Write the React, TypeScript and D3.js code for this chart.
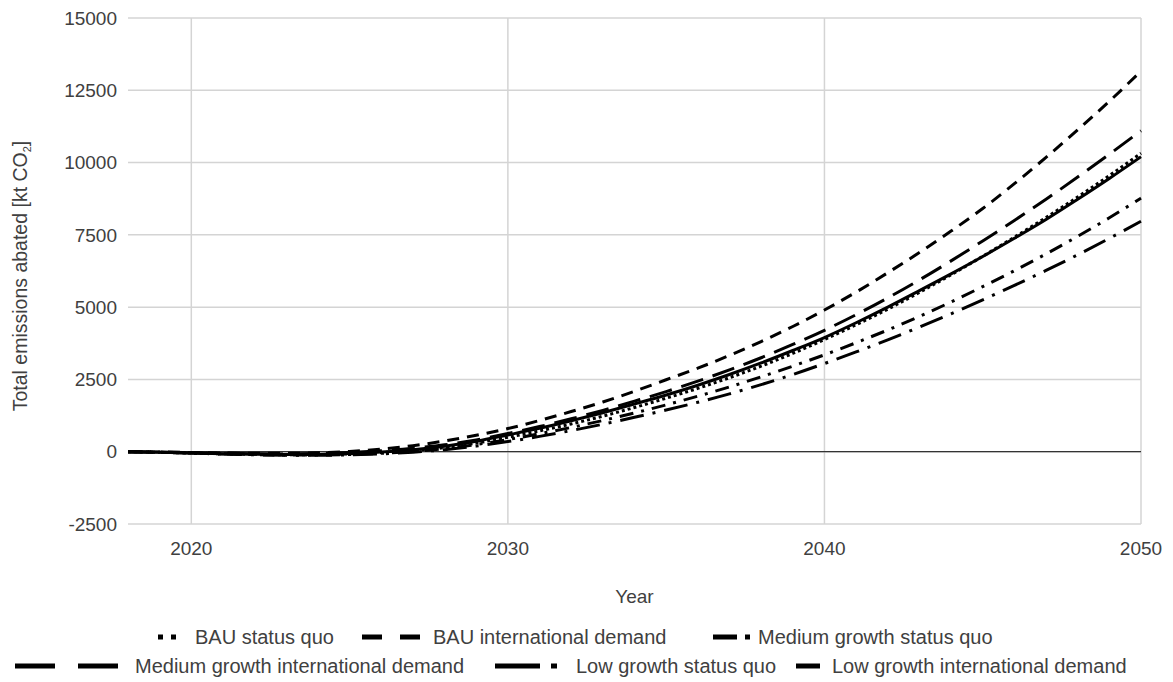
import React from "react";
import * as d3 from "d3";

// Years on the x axis
const years: number[] = d3.range(2018, 2051);

// Total emissions abated per scenario [kt CO2], 2018–2050
const bauStatusQuo: number[] = [
  0, -20, -45, -70, -90, -105, -100, -75, -30, 40, 140, 300, 500, 720, 960, 1230, 1530,
  1850, 2190, 2560, 2960, 3400, 3880, 4390, 4930, 5510, 6120, 6760, 7420, 8100, 8810, 9550, 10320,
];
const bauInternational: number[] = [
  0, -10, -25, -45, -55, -55, -35, 10, 90, 210, 370, 570, 800, 1080, 1390, 1720, 2090,
  2490, 2890, 3330, 3810, 4330, 4900, 5520, 6190, 6890, 7630, 8410, 9270, 10180, 11130, 12120, 13160,
];
const mediumStatusQuo: number[] = [
  0, -20, -45, -75, -100, -115, -115, -95, -55, 10, 110, 250, 420, 620, 840, 1080, 1340,
  1620, 1920, 2240, 2590, 2960, 3350, 3770, 4210, 4680, 5180, 5710, 6260, 6840, 7450, 8090, 8770,
];
const mediumInternational: number[] = [
  0, -15, -35, -55, -70, -75, -60, -25, 35, 120, 240, 410, 630, 870, 1140, 1430, 1750,
  2080, 2440, 2830, 3250, 3710, 4200, 4740, 5320, 5940, 6600, 7290, 8000, 8730, 9500, 10290, 11100,
];
const lowStatusQuo: number[] = [
  0, -20, -50, -80, -105, -120, -125, -110, -75, -15, 70, 195, 350, 530, 730, 950, 1190,
  1440, 1710, 2000, 2320, 2670, 3050, 3450, 3870, 4310, 4770, 5250, 5750, 6270, 6810, 7380, 7970,
];
const lowInternational: number[] = [
  0, -20, -45, -70, -90, -100, -95, -65, -10, 70, 190, 360, 580, 810, 1070, 1350, 1650,
  1960, 2300, 2670, 3070, 3500, 3950, 4460, 5000, 5570, 6150, 6750, 7380, 8030, 8730, 9450, 10200,
];

const seriesNames: string[] = [
  "BAU status quo",
  "BAU international demand",
  "Medium growth status quo",
  "Medium growth international demand",
  "Low growth status quo",
  "Low growth international demand",
];
const seriesValues: number[][] = [
  bauStatusQuo,
  bauInternational,
  mediumStatusQuo,
  mediumInternational,
  lowStatusQuo,
  lowInternational,
];

// Stroke patterns for each scenario line
const lineDash: string[] = ["3,3", "12,8", "14,8,3,8", "23,10", "24,9,3,9", "none"];

const yTicks: number[] = [-2500, 0, 2500, 5000, 7500, 10000, 12500, 15000];
const xTicks: number[] = [2020, 2030, 2040, 2050];

// Legend layout: row, icon start, icon length, icon dash pattern, label x
const legendRow: number[] = [0, 0, 0, 1, 1, 1];
const legendIconX: number[] = [158, 362, 713, 15, 495, 796];
const legendIconLen: number[] = [18, 58, 37, 103, 67, 24];
const legendIconDash: string[] = ["5,8", "20,18", "24,8,5,100", "40,23", "45,11,6,100", "none"];
const legendTextX: number[] = [195, 433, 758, 135, 576, 832];

const W = 1173;
const H = 682;
const margin = { left: 128, right: 1141, top: 18, bottom: 524 };
const FONT = "'Liberation Sans', Arial, sans-serif";
const TEXT = "#404040";

export default function App() {
  const x = d3.scaleLinear().domain([2018, 2050]).range([margin.left, margin.right]);
  const y = d3.scaleLinear().domain([-2500, 15000]).range([margin.bottom, margin.top]);

  const line = d3
    .line<number>()
    .x((_, i) => x(years[i]))
    .y((d) => y(d))
    .curve(d3.curveMonotoneX);

  const rowY = [637, 666];

  return (
    <svg
      width={W}
      height={H}
      style={{ position: "absolute", left: 0, top: 0, background: "#fff" }}
      fontFamily={FONT}
    >
      <rect x={0} y={0} width={W} height={H} fill="#fff" />

      {/* horizontal grid */}
      {yTicks.map((t) => (
        <line
          key={"gy" + t}
          x1={margin.left}
          x2={margin.right}
          y1={y(t)}
          y2={y(t)}
          stroke="#d4d4d4"
          strokeWidth={1.5}
        />
      ))}
      {/* vertical grid */}
      {xTicks.map((t) => (
        <line
          key={"gx" + t}
          x1={x(t)}
          x2={x(t)}
          y1={margin.top}
          y2={margin.bottom}
          stroke="#d4d4d4"
          strokeWidth={1.5}
        />
      ))}
      {/* zero baseline */}
      <line x1={margin.left} x2={margin.right} y1={y(0)} y2={y(0)} stroke="#333" strokeWidth={1.2} />

      {/* y tick labels */}
      {yTicks.map((t) => (
        <text
          key={"ty" + t}
          x={117}
          y={y(t)}
          dy="0.35em"
          textAnchor="end"
          fontSize={19}
          fill={TEXT}
        >
          {t}
        </text>
      ))}
      {/* x tick labels */}
      {xTicks.map((t) => (
        <text key={"tx" + t} x={x(t)} y={555} textAnchor="middle" fontSize={19} fill={TEXT}>
          {t}
        </text>
      ))}

      {/* axis titles */}
      <text x={x(2034)} y={603} textAnchor="middle" fontSize={19} fill={TEXT}>
        Year
      </text>
      <text
        transform={`translate(27, 276) rotate(-90)`}
        textAnchor="middle"
        fontSize={19.5}
        fill={TEXT}
      >
        Total emissions abated [kt CO
        <tspan fontSize={11} dy={4}>
          2
        </tspan>
        <tspan dy={-4}>]</tspan>
      </text>

      {/* scenario lines */}
      {seriesValues.map((vals, i) => (
        <path
          key={"s" + i}
          d={line(vals) || ""}
          fill="none"
          stroke="#000"
          strokeWidth={3}
          strokeDasharray={lineDash[i]}
          strokeLinecap="butt"
          strokeLinejoin="round"
        />
      ))}

      {/* legend */}
      {seriesNames.map((name, i) => {
        const cy = rowY[legendRow[i]];
        return (
          <g key={"lg" + i}>
            <line
              x1={legendIconX[i]}
              x2={legendIconX[i] + legendIconLen[i]}
              y1={cy}
              y2={cy}
              stroke="#000"
              strokeWidth={5}
              strokeDasharray={legendIconDash[i]}
            />
            <text x={legendTextX[i]} y={cy} dy="0.35em" fontSize={20} fill={TEXT}>
              {name}
            </text>
          </g>
        );
      })}
    </svg>
  );
}
